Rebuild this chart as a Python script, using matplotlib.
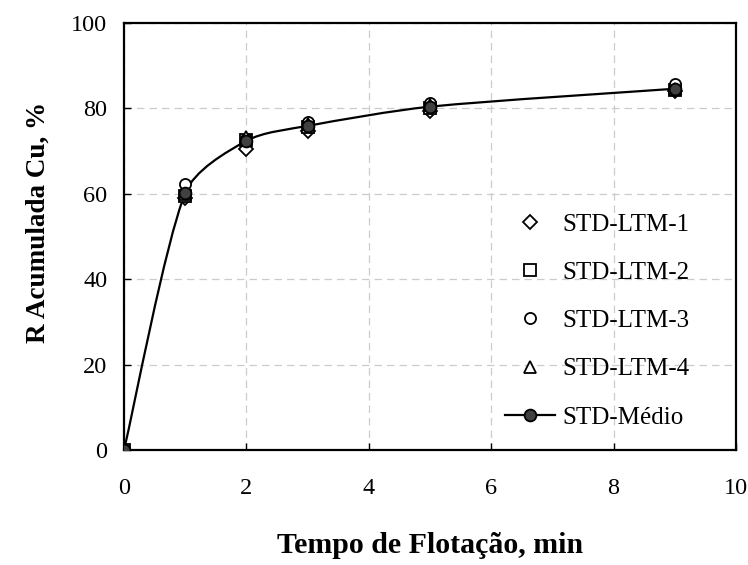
import numpy as np
import matplotlib.pyplot as plt
from matplotlib.path import Path
from matplotlib.patches import PathPatch
from matplotlib.lines import Line2D

plt.rcParams['font.family'] = ['Liberation Serif', 'DejaVu Serif']

tempo = [0, 1, 2, 3, 5, 9]
ltm1 = [0, 59.0, 70.6, 74.6, 79.4, 84.0]
ltm2 = [0, 59.4, 72.6, 75.6, 80.0, 84.2]
ltm3 = [0, 62.4, 72.8, 76.8, 81.2, 85.6]
ltm4 = [0, 60.0, 73.4, 76.4, 80.8, 84.6]
medio = [0, 60.2, 72.4, 75.9, 80.4, 84.6]


def smooth_path(ax, x, y, cap=0.3):
    # Bezier "smoothed line", built in display space so the tangents
    # are not distorted by the axis aspect, then mapped back to data
    tr = ax.transData
    p = tr.transform(np.column_stack([x, y]).astype(float))
    pts = np.vstack([p[0], p, p[-1]])
    verts = [p[0]]
    codes = [Path.MOVETO]
    for i in range(1, len(pts) - 2):
        p0, p1, p2, p3 = pts[i - 1], pts[i], pts[i + 1], pts[i + 2]
        seg = np.linalg.norm(p2 - p1)
        t1 = (p2 - p0) / 6.0
        t2 = (p3 - p1) / 6.0
        for t in (t1, t2):
            n = np.linalg.norm(t)
            if n > cap * seg:
                t *= cap * seg / n
        verts += [p1 + t1, p2 - t2, p2]
        codes += [Path.CURVE4] * 3
    verts = tr.inverted().transform(np.array(verts))
    return Path(verts, codes)


fig = plt.figure(figsize=(7.48, 5.65), dpi=100)
ax = fig.add_axes([0.1658, 0.2035, 0.818, 0.7558])
ax.set_xlim(0, 10)
ax.set_ylim(0, 100)

ax.add_patch(PathPatch(smooth_path(ax, tempo, medio), fill=False,
                       edgecolor='black', lw=1.6, zorder=2))

mk = dict(ls='none', mfc='white', mec='black', mew=1.3, ms=8, zorder=3)
ax.plot(tempo, ltm1, marker='D', label='STD-LTM-1', **{**mk, 'ms': 7})
ax.plot(tempo, ltm2, marker='s', label='STD-LTM-2', **mk)
ax.plot(tempo, ltm3, marker='o', label='STD-LTM-3', **mk)
ax.plot(tempo, ltm4, marker='^', label='STD-LTM-4', **mk)
ax.plot(tempo, medio, ls='none', marker='o', mfc='#404040', mec='black',
        mew=1.3, ms=8.5, zorder=4)

handles, labels = ax.get_legend_handles_labels()
handles.append(Line2D([], [], color='black', lw=1.6, marker='o',
                      mfc='#404040', mec='black', mew=1.3, ms=8.5))
labels.append('STD-Médio')
ax.legend(handles, labels, loc='lower right', bbox_to_anchor=(0.925, 0.05),
          frameon=False, fontsize=18, labelspacing=1.03, handlelength=2.0,
          handletextpad=0.3, borderaxespad=0, borderpad=0)

ax.set_xticks(range(0, 11, 2))
ax.set_yticks(range(0, 101, 20))
ax.grid(True, color='#cccccc', ls=(0, (6, 4)), lw=0.9)
ax.set_axisbelow(True)
for s in ax.spines.values():
    s.set_linewidth(1.6)
ax.tick_params(axis='both', direction='in', length=5, width=1.0,
               labelsize=17.5)
ax.tick_params(axis='x', pad=20)
ax.tick_params(axis='y', pad=12)

ax.set_xlabel('Tempo de Flotação, min', fontsize=21.5, fontweight='bold',
              labelpad=24)
ax.set_ylabel('R Acumulada Cu, %', fontsize=19.5, fontweight='bold')
ax.yaxis.set_label_coords(-0.12, 0.532)

fig.savefig('out.png', dpi=100)
